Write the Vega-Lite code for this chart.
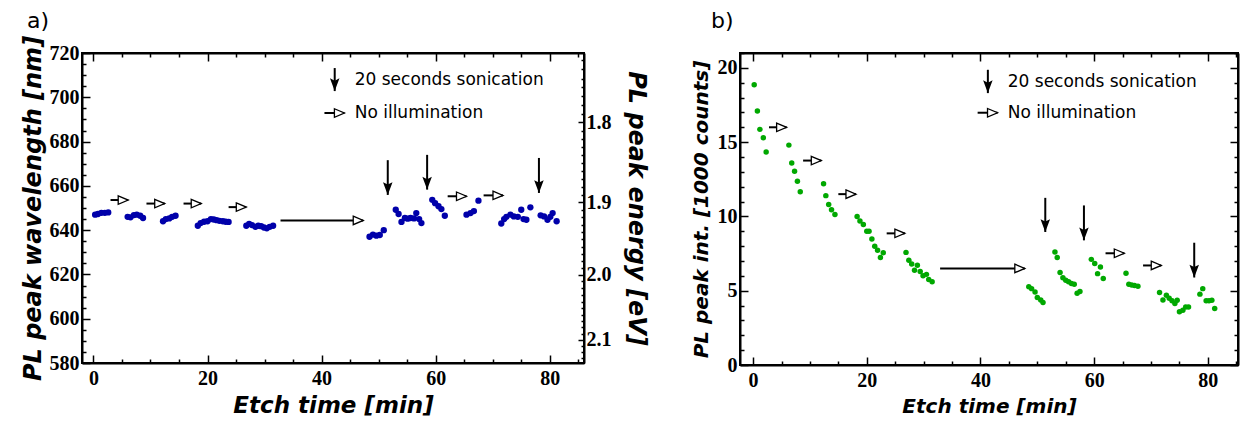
{
  "$schema": "https://vega.github.io/schema/vega-lite/v6.json",
  "padding": {"left": 20, "top": 9, "right": 5, "bottom": 2},
  "spacing": 42,
  "config": {
    "view": {"stroke": "black", "strokeWidth": 2},
    "axis": {"domainColor": "black", "domainWidth": 2, "tickColor": "black", "tickWidth": 1.5, "grid": false,
             "labelFont": "Liberation Serif", "labelFontWeight": "bold", "labelFontSize": 20, "labelColor": "black",
             "titleFont": "DejaVu Sans", "titleFontWeight": "bold", "titleFontStyle": "italic", "titleColor": "black"}
  },
  "datasets": {
    "left": [
      {"t": 0.3, "w": 647.0}, {"t": 0.8, "w": 647.3}, {"t": 1.4, "w": 647.8}, {"t": 2.0, "w": 647.8}, {"t": 2.6, "w": 648.0},
      {"t": 6.0, "w": 646.0}, {"t": 6.5, "w": 645.8}, {"t": 7.1, "w": 646.8}, {"t": 7.6, "w": 647.0}, {"t": 8.2, "w": 646.5}, {"t": 8.7, "w": 645.5},
      {"t": 12.2, "w": 644.0}, {"t": 12.7, "w": 645.0}, {"t": 13.3, "w": 645.3}, {"t": 13.8, "w": 646.0}, {"t": 14.4, "w": 646.5},
      {"t": 18.3, "w": 642.0}, {"t": 18.8, "w": 643.2}, {"t": 19.4, "w": 643.8}, {"t": 20.0, "w": 644.0}, {"t": 20.6, "w": 645.0}, {"t": 21.1, "w": 644.8}, {"t": 21.6, "w": 644.5}, {"t": 22.1, "w": 644.2}, {"t": 22.7, "w": 644.0}, {"t": 23.2, "w": 643.8}, {"t": 23.7, "w": 643.7},
      {"t": 26.8, "w": 642.0}, {"t": 27.3, "w": 642.8}, {"t": 27.8, "w": 642.3}, {"t": 28.4, "w": 641.5}, {"t": 28.9, "w": 642.0}, {"t": 29.4, "w": 641.8}, {"t": 29.9, "w": 641.2}, {"t": 30.4, "w": 640.8}, {"t": 30.9, "w": 641.5}, {"t": 31.5, "w": 642.0},
      {"t": 48.4, "w": 637.0}, {"t": 49.0, "w": 638.0}, {"t": 49.6, "w": 637.5}, {"t": 50.2, "w": 637.8}, {"t": 50.9, "w": 640.0},
      {"t": 53.0, "w": 649.2}, {"t": 53.5, "w": 647.3}, {"t": 54.0, "w": 643.7}, {"t": 54.6, "w": 645.5}, {"t": 55.1, "w": 645.2}, {"t": 55.6, "w": 645.5}, {"t": 56.2, "w": 645.3}, {"t": 56.6, "w": 647.7}, {"t": 57.1, "w": 645.0}, {"t": 57.5, "w": 643.2},
      {"t": 59.4, "w": 653.7}, {"t": 59.9, "w": 652.2}, {"t": 60.5, "w": 650.8}, {"t": 61.0, "w": 649.5}, {"t": 61.6, "w": 646.5},
      {"t": 65.4, "w": 647.0}, {"t": 66.1, "w": 647.7}, {"t": 66.7, "w": 648.6}, {"t": 67.5, "w": 653.3},
      {"t": 71.5, "w": 643.0}, {"t": 72.0, "w": 645.0}, {"t": 72.4, "w": 646.0}, {"t": 73.1, "w": 647.0}, {"t": 73.7, "w": 646.2}, {"t": 74.4, "w": 646.0}, {"t": 75.0, "w": 649.2}, {"t": 75.4, "w": 645.0}, {"t": 75.9, "w": 644.7}, {"t": 76.6, "w": 650.3},
      {"t": 78.4, "w": 646.7}, {"t": 79.0, "w": 646.2}, {"t": 79.6, "w": 644.7}, {"t": 80.1, "w": 646.0}, {"t": 80.5, "w": 647.7}, {"t": 81.2, "w": 644.0}
    ],
    "right": [
      {"t": 0.2, "i": 18.86}, {"t": 0.76, "i": 17.1}, {"t": 1.2, "i": 15.86}, {"t": 1.8, "i": 15.3}, {"t": 2.3, "i": 14.34},
      {"t": 6.3, "i": 14.8}, {"t": 6.8, "i": 13.6}, {"t": 7.3, "i": 13.04}, {"t": 7.8, "i": 12.37}, {"t": 8.3, "i": 11.66},
      {"t": 12.4, "i": 12.2}, {"t": 12.8, "i": 11.4}, {"t": 13.3, "i": 10.8}, {"t": 13.8, "i": 10.45}, {"t": 14.4, "i": 10.13},
      {"t": 18.3, "i": 10.0}, {"t": 18.8, "i": 9.69}, {"t": 19.4, "i": 9.46}, {"t": 20.0, "i": 9.0}, {"t": 20.4, "i": 9.0}, {"t": 20.9, "i": 8.48}, {"t": 21.4, "i": 8.0}, {"t": 21.9, "i": 7.72}, {"t": 22.4, "i": 7.23}, {"t": 22.9, "i": 7.56},
      {"t": 26.9, "i": 7.58}, {"t": 27.4, "i": 7.05}, {"t": 27.9, "i": 6.8}, {"t": 28.4, "i": 6.38}, {"t": 28.9, "i": 6.71}, {"t": 29.4, "i": 6.29}, {"t": 29.9, "i": 6.0}, {"t": 30.5, "i": 6.1}, {"t": 30.9, "i": 5.75}, {"t": 31.5, "i": 5.6},
      {"t": 48.5, "i": 5.26}, {"t": 49.0, "i": 5.14}, {"t": 49.6, "i": 4.92}, {"t": 50.0, "i": 4.54}, {"t": 50.6, "i": 4.38}, {"t": 51.0, "i": 4.2},
      {"t": 53.1, "i": 7.6}, {"t": 53.5, "i": 7.23}, {"t": 54.0, "i": 6.22}, {"t": 54.5, "i": 5.88}, {"t": 55.0, "i": 5.7}, {"t": 55.5, "i": 5.6}, {"t": 56.0, "i": 5.48}, {"t": 56.5, "i": 5.43}, {"t": 57.0, "i": 4.83}, {"t": 57.5, "i": 4.95},
      {"t": 59.5, "i": 7.11}, {"t": 60.1, "i": 6.83}, {"t": 60.6, "i": 6.15}, {"t": 61.1, "i": 6.6}, {"t": 61.6, "i": 5.82},
      {"t": 65.6, "i": 6.17}, {"t": 66.1, "i": 5.44}, {"t": 66.6, "i": 5.39}, {"t": 67.1, "i": 5.35}, {"t": 67.7, "i": 5.3},
      {"t": 71.5, "i": 4.88}, {"t": 72.1, "i": 4.38}, {"t": 72.7, "i": 4.7}, {"t": 73.2, "i": 4.5}, {"t": 73.7, "i": 4.32}, {"t": 74.2, "i": 4.14}, {"t": 74.6, "i": 4.36}, {"t": 75.0, "i": 3.58}, {"t": 75.6, "i": 3.69}, {"t": 76.1, "i": 3.91}, {"t": 76.6, "i": 3.91},
      {"t": 78.6, "i": 4.77}, {"t": 79.1, "i": 5.14}, {"t": 79.7, "i": 4.32}, {"t": 80.2, "i": 4.32}, {"t": 80.7, "i": 4.36}, {"t": 81.2, "i": 3.8}
    ],
    "leftH": [
      {"t1": 3.0, "t2": 6.1, "v": 653.6}, {"t1": 9.3, "t2": 12.5, "v": 652.0}, {"t1": 15.8, "t2": 18.9, "v": 652.0}, {"t1": 23.7, "t2": 26.8, "v": 650.4},
      {"t1": 32.8, "t2": 47.3, "v": 644.4}, {"t1": 62.1, "t2": 65.4, "v": 655.3}, {"t1": 68.4, "t2": 71.8, "v": 655.7}, {"t1": 40.5, "t2": 44.0, "v": 692.9}
    ],
    "leftV": [
      {"t": 51.6, "v1": 671.6, "v2": 655.9}, {"t": 58.5, "v1": 674.0, "v2": 658.3}, {"t": 78.1, "v1": 672.6, "v2": 656.8}, {"t": 42.3, "v1": 713.2, "v2": 702.8}
    ],
    "leftLegend": [
      {"t": 45.8, "v": 707.8, "label": "20 seconds sonication"}, {"t": 45.8, "v": 692.9, "label": "No illumination"}
    ],
    "rightH": [
      {"t1": 2.8, "t2": 5.9, "v": 16.0}, {"t1": 8.8, "t2": 12.0, "v": 13.76}, {"t1": 15.0, "t2": 18.1, "v": 11.5}, {"t1": 23.5, "t2": 26.7, "v": 8.86},
      {"t1": 32.9, "t2": 47.8, "v": 6.5}, {"t1": 62.0, "t2": 65.3, "v": 7.52}, {"t1": 68.6, "t2": 71.8, "v": 6.7}, {"t1": 39.5, "t2": 43.0, "v": 16.98}
    ],
    "rightV": [
      {"t": 51.4, "v1": 11.25, "v2": 8.95}, {"t": 58.2, "v1": 10.74, "v2": 8.39}, {"t": 77.6, "v1": 8.23, "v2": 5.89}, {"t": 41.3, "v1": 19.87, "v2": 18.3}
    ],
    "rightLegend": [
      {"t": 44.8, "v": 19.06, "label": "20 seconds sonication"}, {"t": 44.8, "v": 16.98, "label": "No illumination"}
    ]
  },
  "hconcat": [
    {
      "width": 502, "height": 310,
      "title": {"text": "a)", "anchor": "start", "frame": "bounds", "font": "DejaVu Sans", "fontSize": 22, "fontWeight": "normal", "color": "black", "offset": 2, "dx": 6},
      "resolve": {"axis": {"x": "independent", "y": "independent"}},
      "layer": [
        {
          "data": {"name": "left"},
          "mark": {"type": "circle", "size": 40, "color": "#0000aa", "opacity": 1},
          "encoding": {
            "x": {"field": "t", "type": "quantitative", "scale": {"domain": [-2, 86], "nice": false, "zero": false},
                  "axis": {"orient": "bottom", "title": "Etch time [min]", "titleFontSize": 23, "titlePadding": 6,
                           "values": [0,5,10,15,20,25,30,35,40,45,50,55,60,65,70,75,80,85],
                           "labelExpr": "datum.value % 20 === 0 ? datum.label : ''",
                           "tickSize": {"condition": {"test": "datum.value % 20 === 0", "value": -8}, "value": -4},
                           "labelPadding": 13}},
            "y": {"field": "w", "type": "quantitative", "scale": {"domain": [580, 720], "nice": false, "zero": false},
                  "axis": {"orient": "left", "title": "PL peak wavelength [nm]", "titleFontSize": 24, "titlePadding": 4,
                           "values": [580,585,590,595,600,605,610,615,620,625,630,635,640,645,650,655,660,665,670,675,680,685,690,695,700,705,710,715,720],
                           "labelExpr": "datum.value % 20 === 0 ? datum.label : ''",
                           "tickSize": {"condition": {"test": "datum.value % 20 === 0", "value": -8}, "value": -4},
                           "labelPadding": 11}}
          }
        },
        {
          "data": {"name": "left"},
          "mark": {"type": "circle", "size": 1, "opacity": 0},
          "encoding": {
            "x": {"field": "t", "type": "quantitative", "scale": {"domain": [-2, 86], "nice": false, "zero": false},
                  "axis": {"orient": "top", "title": null, "labels": false,
                           "values": [0,5,10,15,20,25,30,35,40,45,50,55,60,65,70,75,80,85],
                           "tickSize": {"condition": {"test": "datum.value % 20 === 0", "value": -8}, "value": -4}}},
            "y": {"field": "w", "type": "quantitative", "scale": {"domain": [580, 720], "nice": false, "zero": false},
                  "axis": {"orient": "right", "title": "PL peak energy [eV]", "titleFontSize": 24, "titlePadding": 12,
                           "values": [716.67,712.55,708.48,704.45,700.47,696.54,692.65,688.80,685.00,681.23,677.51,673.83,670.18,666.58,663.02,659.49,656.00,652.55,649.13,645.75,642.40,639.09,635.82,632.57,629.36,626.18,623.04,619.92,616.84,613.78,610.76,607.76,604.80,601.86,598.96,596.08,593.23,590.40,587.60,584.83,582.08],
                           "labelExpr": "abs(1239.84/datum.value*10 - round(1239.84/datum.value*10)) < 0.001 ? format(1239.84/datum.value, '.1f') : ''",
                           "tickSize": {"condition": {"test": "abs(1239.84/datum.value*10 - round(1239.84/datum.value*10)) < 0.001", "value": -6}, "value": -3},
                           "labelPadding": 8}}
          }
        },
        {
          "data": {"name": "leftH"},
          "mark": {"type": "rule", "color": "black", "strokeWidth": 2},
          "encoding": {
            "x": {"field": "t1", "type": "quantitative", "scale": {"domain": [-2, 86], "nice": false, "zero": false}, "axis": null},
            "x2": {"field": "t2"},
            "y": {"field": "v", "type": "quantitative", "scale": {"domain": [580, 720], "nice": false, "zero": false}, "axis": null}
          }
        },
        {
          "data": {"name": "leftH"},
          "mark": {"type": "point", "shape": "M-2,-0.85L0,0L-2,0.85Z", "size": 100, "filled": true, "fill": "white", "stroke": "black", "strokeWidth": 1.3, "opacity": 1},
          "encoding": {
            "x": {"field": "t2", "type": "quantitative", "scale": {"domain": [-2, 86], "nice": false, "zero": false}, "axis": null},
            "y": {"field": "v", "type": "quantitative", "scale": {"domain": [580, 720], "nice": false, "zero": false}, "axis": null}
          }
        },
        {
          "data": {"name": "leftV"},
          "mark": {"type": "rule", "color": "black", "strokeWidth": 2},
          "encoding": {
            "x": {"field": "t", "type": "quantitative", "scale": {"domain": [-2, 86], "nice": false, "zero": false}, "axis": null},
            "y": {"field": "v1", "type": "quantitative", "scale": {"domain": [580, 720], "nice": false, "zero": false}, "axis": null},
            "y2": {"field": "v2"}
          }
        },
        {
          "data": {"name": "leftV"},
          "mark": {"type": "point", "shape": "M-1,-2.7L0,0L1,-2.7L0,-2.2Z", "size": 90, "filled": true, "color": "black", "opacity": 1},
          "encoding": {
            "x": {"field": "t", "type": "quantitative", "scale": {"domain": [-2, 86], "nice": false, "zero": false}, "axis": null},
            "y": {"field": "v2", "type": "quantitative", "scale": {"domain": [580, 720], "nice": false, "zero": false}, "axis": null}
          }
        },
        {
          "data": {"name": "leftLegend"},
          "mark": {"type": "text", "align": "left", "baseline": "middle", "font": "DejaVu Sans", "fontSize": 17, "color": "black"},
          "encoding": {
            "x": {"field": "t", "type": "quantitative", "scale": {"domain": [-2, 86], "nice": false, "zero": false}, "axis": null},
            "y": {"field": "v", "type": "quantitative", "scale": {"domain": [580, 720], "nice": false, "zero": false}, "axis": null},
            "text": {"field": "label"}
          }
        }
      ]
    },
    {
      "width": 498, "height": 312,
      "title": {"text": "b)", "anchor": "start", "frame": "bounds", "font": "DejaVu Sans", "fontSize": 22, "fontWeight": "normal", "color": "black", "offset": 19, "dx": 20},
      "resolve": {"axis": {"x": "independent", "y": "independent"}},
      "layer": [
        {
          "data": {"name": "right"},
          "mark": {"type": "circle", "size": 30, "color": "#00a800", "opacity": 1},
          "encoding": {
            "x": {"field": "t", "type": "quantitative", "scale": {"domain": [-2.3, 85.3], "nice": false, "zero": false},
                  "axis": {"orient": "bottom", "title": "Etch time [min]", "titleFontSize": 20, "titlePadding": 6,
                           "values": [0,5,10,15,20,25,30,35,40,45,50,55,60,65,70,75,80,85],
                           "labelExpr": "datum.value % 20 === 0 ? datum.label : ''",
                           "tickSize": {"condition": {"test": "datum.value % 20 === 0", "value": -8}, "value": -4},
                           "labelPadding": 13}},
            "y": {"field": "i", "type": "quantitative", "scale": {"domain": [0, 21], "nice": false, "zero": false},
                  "axis": {"orient": "left", "title": "PL peak int. [1000 counts]", "titleFontSize": 20, "titlePadding": 6,
                           "values": [0,1,2,3,4,5,6,7,8,9,10,11,12,13,14,15,16,17,18,19,20,21],
                           "labelExpr": "datum.value % 5 === 0 ? datum.label : ''",
                           "tickSize": {"condition": {"test": "datum.value % 5 === 0", "value": -8}, "value": -4},
                           "labelPadding": 11}}
          }
        },
        {
          "data": {"name": "right"},
          "mark": {"type": "circle", "size": 1, "opacity": 0},
          "encoding": {
            "x": {"field": "t", "type": "quantitative", "scale": {"domain": [-2.3, 85.3], "nice": false, "zero": false},
                  "axis": {"orient": "top", "title": null, "labels": false,
                           "values": [0,5,10,15,20,25,30,35,40,45,50,55,60,65,70,75,80,85],
                           "tickSize": {"condition": {"test": "datum.value % 20 === 0", "value": -8}, "value": -4}}},
            "y": {"field": "i", "type": "quantitative", "scale": {"domain": [0, 21], "nice": false, "zero": false},
                  "axis": {"orient": "right", "title": null, "labels": false,
                           "values": [0,1,2,3,4,5,6,7,8,9,10,11,12,13,14,15,16,17,18,19,20,21],
                           "tickSize": {"condition": {"test": "datum.value % 5 === 0", "value": -8}, "value": -4}}}
          }
        },
        {
          "data": {"name": "rightH"},
          "mark": {"type": "rule", "color": "black", "strokeWidth": 2},
          "encoding": {
            "x": {"field": "t1", "type": "quantitative", "scale": {"domain": [-2.3, 85.3], "nice": false, "zero": false}, "axis": null},
            "x2": {"field": "t2"},
            "y": {"field": "v", "type": "quantitative", "scale": {"domain": [0, 21], "nice": false, "zero": false}, "axis": null}
          }
        },
        {
          "data": {"name": "rightH"},
          "mark": {"type": "point", "shape": "M-2,-0.85L0,0L-2,0.85Z", "size": 100, "filled": true, "fill": "white", "stroke": "black", "strokeWidth": 1.3, "opacity": 1},
          "encoding": {
            "x": {"field": "t2", "type": "quantitative", "scale": {"domain": [-2.3, 85.3], "nice": false, "zero": false}, "axis": null},
            "y": {"field": "v", "type": "quantitative", "scale": {"domain": [0, 21], "nice": false, "zero": false}, "axis": null}
          }
        },
        {
          "data": {"name": "rightV"},
          "mark": {"type": "rule", "color": "black", "strokeWidth": 2},
          "encoding": {
            "x": {"field": "t", "type": "quantitative", "scale": {"domain": [-2.3, 85.3], "nice": false, "zero": false}, "axis": null},
            "y": {"field": "v1", "type": "quantitative", "scale": {"domain": [0, 21], "nice": false, "zero": false}, "axis": null},
            "y2": {"field": "v2"}
          }
        },
        {
          "data": {"name": "rightV"},
          "mark": {"type": "point", "shape": "M-1,-2.7L0,0L1,-2.7L0,-2.2Z", "size": 90, "filled": true, "color": "black", "opacity": 1},
          "encoding": {
            "x": {"field": "t", "type": "quantitative", "scale": {"domain": [-2.3, 85.3], "nice": false, "zero": false}, "axis": null},
            "y": {"field": "v2", "type": "quantitative", "scale": {"domain": [0, 21], "nice": false, "zero": false}, "axis": null}
          }
        },
        {
          "data": {"name": "rightLegend"},
          "mark": {"type": "text", "align": "left", "baseline": "middle", "font": "DejaVu Sans", "fontSize": 17, "color": "black"},
          "encoding": {
            "x": {"field": "t", "type": "quantitative", "scale": {"domain": [-2.3, 85.3], "nice": false, "zero": false}, "axis": null},
            "y": {"field": "v", "type": "quantitative", "scale": {"domain": [0, 21], "nice": false, "zero": false}, "axis": null},
            "text": {"field": "label"}
          }
        }
      ]
    }
  ]
}
